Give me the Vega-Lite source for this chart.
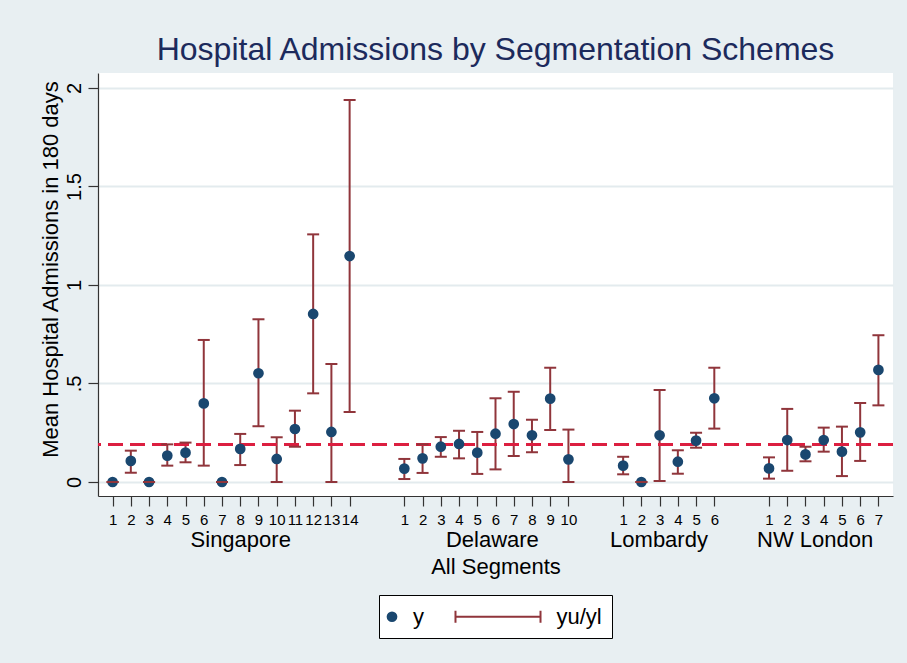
{
  "$schema": "https://vega.github.io/schema/vega-lite/v6.json",
  "width": 795,
  "height": 423,
  "autosize": {"type": "none"},
  "padding": {"left": 98, "top": 73, "right": 14, "bottom": 167},
  "background": "#e8eff2",
  "config": {
    "view": {"stroke": null, "fill": "white"},
    "font": "Liberation Sans",
    "axis": {"labelFont": "Liberation Sans", "titleFont": "Liberation Sans", "labelColor": "black", "titleColor": "black", "titleFontWeight": "normal", "domainColor": "#333333", "tickColor": "#333333", "domainWidth": 1.2, "tickWidth": 1.2}
  },
  "title": {"text": "Hospital Admissions by Segmentation Schemes", "fontSize": 32, "font": "Liberation Sans", "fontWeight": "normal", "color": "#1c2a5c", "anchor": "middle", "frame": "group", "offset": 6},
  "data": {"values": [
    {"region": "Singapore", "seg": 1, "idx": 1, "y": 0, "yl": 0, "yu": 0},
    {"region": "Singapore", "seg": 2, "idx": 2, "y": 0.107, "yl": 0.047, "yu": 0.159},
    {"region": "Singapore", "seg": 3, "idx": 3, "y": 0, "yl": 0, "yu": 0},
    {"region": "Singapore", "seg": 4, "idx": 4, "y": 0.134, "yl": 0.083, "yu": 0.191},
    {"region": "Singapore", "seg": 5, "idx": 5, "y": 0.149, "yl": 0.100, "yu": 0.200},
    {"region": "Singapore", "seg": 6, "idx": 6, "y": 0.399, "yl": 0.083, "yu": 0.721},
    {"region": "Singapore", "seg": 7, "idx": 7, "y": 0, "yl": 0, "yu": 0},
    {"region": "Singapore", "seg": 8, "idx": 8, "y": 0.168, "yl": 0.086, "yu": 0.244},
    {"region": "Singapore", "seg": 9, "idx": 9, "y": 0.552, "yl": 0.283, "yu": 0.826},
    {"region": "Singapore", "seg": 10, "idx": 10, "y": 0.117, "yl": 0.0, "yu": 0.227},
    {"region": "Singapore", "seg": 11, "idx": 11, "y": 0.269, "yl": 0.179, "yu": 0.362},
    {"region": "Singapore", "seg": 12, "idx": 12, "y": 0.853, "yl": 0.450, "yu": 1.257},
    {"region": "Singapore", "seg": 13, "idx": 13, "y": 0.254, "yl": 0.0, "yu": 0.599},
    {"region": "Singapore", "seg": 14, "idx": 14, "y": 1.147, "yl": 0.355, "yu": 1.939},
    {"region": "Delaware", "seg": 1, "idx": 17, "y": 0.068, "yl": 0.015, "yu": 0.117},
    {"region": "Delaware", "seg": 2, "idx": 18, "y": 0.120, "yl": 0.046, "yu": 0.191},
    {"region": "Delaware", "seg": 3, "idx": 19, "y": 0.179, "yl": 0.128, "yu": 0.228},
    {"region": "Delaware", "seg": 4, "idx": 20, "y": 0.193, "yl": 0.120, "yu": 0.260},
    {"region": "Delaware", "seg": 5, "idx": 21, "y": 0.149, "yl": 0.041, "yu": 0.254},
    {"region": "Delaware", "seg": 6, "idx": 22, "y": 0.245, "yl": 0.064, "yu": 0.425},
    {"region": "Delaware", "seg": 7, "idx": 23, "y": 0.294, "yl": 0.132, "yu": 0.458},
    {"region": "Delaware", "seg": 8, "idx": 24, "y": 0.237, "yl": 0.151, "yu": 0.316},
    {"region": "Delaware", "seg": 9, "idx": 25, "y": 0.423, "yl": 0.264, "yu": 0.580},
    {"region": "Delaware", "seg": 10, "idx": 26, "y": 0.115, "yl": 0.0, "yu": 0.266},
    {"region": "Lombardy", "seg": 1, "idx": 29, "y": 0.083, "yl": 0.039, "yu": 0.128},
    {"region": "Lombardy", "seg": 2, "idx": 30, "y": 0, "yl": 0, "yu": 0},
    {"region": "Lombardy", "seg": 3, "idx": 31, "y": 0.237, "yl": 0.005, "yu": 0.467},
    {"region": "Lombardy", "seg": 4, "idx": 32, "y": 0.103, "yl": 0.042, "yu": 0.161},
    {"region": "Lombardy", "seg": 5, "idx": 33, "y": 0.210, "yl": 0.174, "yu": 0.250},
    {"region": "Lombardy", "seg": 6, "idx": 34, "y": 0.425, "yl": 0.271, "yu": 0.580},
    {"region": "NW London", "seg": 1, "idx": 37, "y": 0.069, "yl": 0.017, "yu": 0.125},
    {"region": "NW London", "seg": 2, "idx": 38, "y": 0.213, "yl": 0.057, "yu": 0.371},
    {"region": "NW London", "seg": 3, "idx": 39, "y": 0.140, "yl": 0.105, "yu": 0.179},
    {"region": "NW London", "seg": 4, "idx": 40, "y": 0.213, "yl": 0.154, "yu": 0.276},
    {"region": "NW London", "seg": 5, "idx": 41, "y": 0.154, "yl": 0.030, "yu": 0.281},
    {"region": "NW London", "seg": 6, "idx": 42, "y": 0.252, "yl": 0.107, "yu": 0.401},
    {"region": "NW London", "seg": 7, "idx": 43, "y": 0.569, "yl": 0.389, "yu": 0.745}
  ]},
  "layer": [
    {
      "mark": {"type": "rule", "color": "#90353b", "strokeWidth": 2},
      "encoding": {
        "x": {"field": "idx", "type": "quantitative",
          "scale": {"domain": [0.2, 43.8], "nice": false, "zero": false},
          "axis": {"orient": "bottom", "values": [1,2,3,4,5,6,7,8,9,10,11,12,13,14,17,18,19,20,21,22,23,24,25,26,29,30,31,32,33,34,37,38,39,40,41,42,43],
            "labelExpr": "'' + (datum.value <= 14 ? datum.value : datum.value <= 26 ? datum.value - 16 : datum.value <= 34 ? datum.value - 28 : datum.value - 36)",
            "title": null, "grid": false, "tickSize": 10, "labelFontSize": 15, "labelPadding": 6, "labelOverlap": false, "labelFlush": false, "labelBound": false}},
        "y": {"field": "yl", "type": "quantitative", "title": "Mean Hospital Admissions in 180 days",
          "scale": {"domain": [-0.0711, 2.0761], "nice": false, "zero": false},
          "axis": {"values": [0, 0.5, 1, 1.5, 2], "format": ".1~f", "labelExpr": "datum.value == 0.5 ? '.5' : datum.label",
            "labelAngle": -90, "labelAlign": "center", "labelBaseline": "bottom", "labelPadding": 4, "tickSize": 10,
            "grid": true, "gridColor": "#e3ebee", "gridWidth": 2, "labelFontSize": 20, "titleFontSize": 22, "titlePadding": 2, "titleY": 196}},
        "y2": {"field": "yu"}
      }
    },
    {
      "mark": {"type": "rule", "color": "#dc1f40", "strokeWidth": 2.5, "strokeDash": [15, 7]},
      "encoding": {"y": {"datum": 0.191, "type": "quantitative", "title": "Mean Hospital Admissions in 180 days"}}
    },
    {
      "mark": {"type": "point", "filled": true, "opacity": 1},
      "encoding": {
        "x": {"field": "idx", "type": "quantitative",
          "scale": {"domain": [0.2, 43.8], "nice": false, "zero": false},
          "axis": {"orient": "bottom", "values": [8, 21.8, 30.94, 39.5],
            "labelExpr": "datum.value < 15 ? 'Singapore' : datum.value < 27 ? 'Delaware' : datum.value < 35 ? 'Lombardy' : 'NW London'",
            "ticks": false, "domain": false, "grid": false, "labelFontSize": 22, "labelPadding": 33,
            "title": "All Segments", "titleFontSize": 22, "titlePadding": 6, "labelOverlap": false, "labelFlush": false, "labelBound": false}},
        "y": {"field": "y", "type": "quantitative", "title": "Mean Hospital Admissions in 180 days"},
        "color": {"datum": "y", "type": "nominal",
          "scale": {"domain": ["y", "yu/yl"], "range": ["#1a476f", "#90353b"]},
          "legend": {"title": null, "orient": "none", "legendX": 281, "legendY": 522, "direction": "horizontal",
            "fillColor": "white", "strokeColor": "black", "padding": 10, "labelFontSize": 22, "labelFont": "Liberation Sans",
            "labelColor": "black", "labelOffset": 10, "symbolOffset": -8, "columnPadding": 29.5, "symbolOpacity": 1,
            "encode": {"symbols": {"update": {"y": {"value": 11.5}}}, "labels": {"update": {"y": {"value": 11.5}}}}}},
        "shape": {"datum": "y", "type": "nominal",
          "scale": {"domain": ["y", "yu/yl"], "range": ["circle", "M-0.916,-0.126H-0.874V-0.021H0.874V-0.126H0.916V0.126H0.874V0.021H-0.874V0.126H-0.916Z"]},
          "legend": {"title": null, "orient": "none", "legendX": 281, "legendY": 522, "direction": "horizontal"}},
        "size": {"datum": "y", "type": "nominal",
          "scale": {"type": "ordinal", "domain": ["y", "yu/yl"], "range": [115, 9025]},
          "legend": {"title": null, "orient": "none", "legendX": 281, "legendY": 522, "direction": "horizontal"}}
      }
    },
    {
      "mark": {"type": "tick", "orient": "horizontal", "color": "#90353b", "thickness": 2, "size": 12, "opacity": 1},
      "encoding": {
        "x": {"field": "idx", "type": "quantitative", "axis": null},
        "y": {"field": "yl", "type": "quantitative", "title": "Mean Hospital Admissions in 180 days"}
      }
    },
    {
      "mark": {"type": "tick", "orient": "horizontal", "color": "#90353b", "thickness": 2, "size": 12, "opacity": 1},
      "encoding": {
        "x": {"field": "idx", "type": "quantitative", "axis": null},
        "y": {"field": "yu", "type": "quantitative", "title": "Mean Hospital Admissions in 180 days"}
      }
    }
  ],
  "resolve": {"axis": {"x": "independent"}}
}
